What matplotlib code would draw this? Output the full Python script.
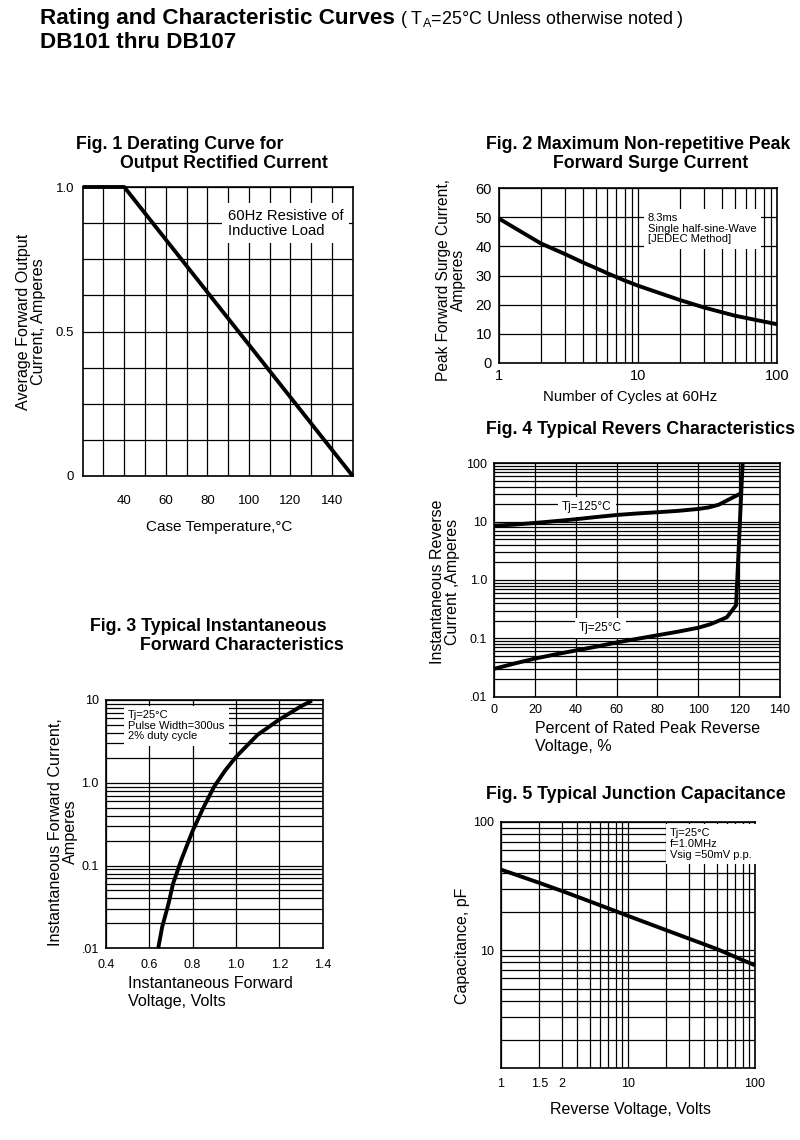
import numpy as np
import matplotlib.pyplot as plt
from matplotlib.ticker import MultipleLocator, FixedLocator, NullFormatter, LogLocator

plt.rcParams['font.family'] = ['Liberation Sans', 'DejaVu Sans']
plt.rcParams['mathtext.fontset'] = 'custom'
plt.rcParams['mathtext.rm'] = 'Liberation Sans'

W, H = 800, 1140

# ---- data ----
# Fig.1 derating curve
f1_temp = [20, 40, 150]
f1_curr = [1.0, 1.0, 0.0]

# Fig.2 surge current
f2_cycles = [1, 2, 3, 4, 5, 6, 8, 10, 20, 30, 50, 100]
f2_amps = [49.5, 41, 37.3, 34.5, 32.5, 30.8, 28.3, 26.5, 21.6, 19, 16.2, 13.3]

# Fig.3 forward characteristics
f3_volt = [0.642, 0.66, 0.69, 0.71, 0.75, 0.80, 0.85, 0.90, 0.95, 1.00, 1.10, 1.20, 1.30, 1.35]
f3_amp = [0.01, 0.018, 0.035, 0.06, 0.12, 0.26, 0.5, 0.9, 1.4, 2.05, 3.8, 5.8, 8.4, 9.8]

# Fig.4 reverse characteristics
f4_pct_125 = [0, 10, 20, 30, 40, 50, 60, 70, 80, 90, 100, 105, 110, 115, 120.4]
f4_ir_125 = [8.5, 8.9, 9.5, 10.2, 11.0, 12.0, 13.0, 13.8, 14.5, 15.3, 16.5, 17.5, 19.5, 24, 30]
f4_pct_25 = [0, 10, 20, 30, 40, 50, 60, 70, 80, 90, 100, 106, 110, 114, 118.5, 121.7]
f4_ir_25 = [0.03, 0.037, 0.045, 0.053, 0.062, 0.072, 0.085, 0.098, 0.113, 0.13, 0.152, 0.175, 0.2, 0.23, 0.37, 100]

# Fig.5 junction capacitance
f5_volt = [1, 2, 3, 5, 10, 20, 50, 100]
f5_cap = [42.5, 33.5, 29, 24, 18.5, 14.3, 10.2, 7.6]

fig = plt.figure(figsize=(W / 100, H / 100), dpi=100)


def add_ax(l, t, r, b):
    return fig.add_axes([l / W, 1 - b / H, (r - l) / W, (b - t) / H])


def ftext(x, y, s, **kw):
    kw.setdefault('va', 'baseline')
    fig.text(x / W, 1 - y / H, s, **kw)


def style(ax, size=9):
    for sp in ax.spines.values():
        sp.set_color('black')
        sp.set_linewidth(1.2)
    ax.tick_params(which='both', length=0, labelsize=size, colors='black', pad=5)
    ax.grid(which='both', color='black', linewidth=0.9)
    ax.set_axisbelow(True)


box = dict(facecolor='white', edgecolor='none', pad=3)
CURVE = dict(color='black', linewidth=2.8, solid_capstyle='butt', clip_on=False, zorder=5)
TITLE = dict(fontsize=12.8, fontweight='bold')

# ---- header ----
ftext(40, 24, 'Rating and Characteristic Curves', fontsize=16.2, fontweight='bold')
ftext(400, 24, r'( T$_\mathregular{A}$=25°C Unless otherwise noted )', fontsize=12.9)
ftext(40, 48, 'DB101 thru DB107', fontsize=16.2, fontweight='bold')

# ---- Fig.1 ----
ax1 = add_ax(82.7, 187, 352.7, 476)
style(ax1, 9.5)
ax1.plot(f1_temp, f1_curr, **CURVE)
ax1.set_xlim(20, 150)
ax1.set_ylim(0, 1.0)
ax1.xaxis.set_major_locator(FixedLocator([40, 60, 80, 100, 120, 140]))
ax1.xaxis.set_minor_locator(FixedLocator(list(range(30, 150, 10))))
ax1.yaxis.set_major_locator(FixedLocator([0, 0.5, 1.0]))
ax1.yaxis.set_minor_locator(MultipleLocator(0.125))
ax1.set_yticklabels(['0', '0.5', '1.0'])
ax1.tick_params(axis='x', pad=14)
ax1.tick_params(axis='y', pad=6)
ax1.text(90, 0.925, '60Hz Resistive of\nInductive Load', fontsize=10.6, va='top', ha='left',
         bbox=dict(facecolor='white', edgecolor='none', pad=4), zorder=4, linespacing=1.1)
ftext(76, 149, 'Fig. 1 Derating Curve for', **TITLE)
ftext(120, 168, 'Output Rectified Current', **TITLE)
ftext(219, 531, 'Case Temperature,°C', fontsize=11, ha='center')
fig.text(31 / W, 1 - 322 / H, 'Average Forward Output\nCurrent, Amperes', fontsize=11.6,
         rotation=90, ha='center', va='center', linespacing=1.0)

# ---- Fig.2 ----
ax2 = add_ax(499, 188, 777, 363)
style(ax2, 10.5)
ax2.plot(f2_cycles, f2_amps, **CURVE)
ax2.set_xscale('log')
ax2.set_xlim(1, 100)
ax2.set_ylim(0, 60)
ax2.xaxis.set_major_locator(FixedLocator([1, 10, 100]))
ax2.xaxis.set_minor_locator(LogLocator(subs=np.arange(2, 10)))
ax2.xaxis.set_minor_formatter(NullFormatter())
ax2.set_xticklabels(['1', '10', '100'])
ax2.yaxis.set_major_locator(MultipleLocator(10))
ax2.tick_params(axis='x', pad=4)
ax2.text(11.8, 51.5, '8.3ms\nSingle half-sine-Wave\n[JEDEC Method]', fontsize=8, va='top',
         ha='left', bbox=box, zorder=4, linespacing=1.1)
ftext(486, 149, 'Fig. 2 Maximum Non-repetitive Peak', **TITLE)
ftext(553, 168, 'Forward Surge Current', **TITLE)
ftext(630, 401, 'Number of Cycles at 60Hz', fontsize=10.7, ha='center')
fig.text(451 / W, 1 - 280 / H, 'Peak Forward Surge Current,\nAmperes', fontsize=11.2,
         rotation=90, ha='center', va='center', linespacing=1.0)

# ---- Fig.4 ----
ax4 = add_ax(494, 463.3, 780, 696.7)
style(ax4)
ax4.plot(f4_pct_125, f4_ir_125, **CURVE)
ax4.plot(f4_pct_25, f4_ir_25, **CURVE)
ax4.set_yscale('log')
ax4.set_xlim(0, 140)
ax4.set_ylim(0.01, 100)
ax4.xaxis.set_major_locator(MultipleLocator(20))
ax4.yaxis.set_major_locator(FixedLocator([0.01, 0.1, 1, 10, 100]))
ax4.yaxis.set_minor_locator(LogLocator(subs=np.arange(2, 10)))
ax4.yaxis.set_minor_formatter(NullFormatter())
ax4.set_yticklabels(['.01', '0.1', '1.0', '10', '100'])
ax4.text(45.4, 17.9, 'Tj=125°C', fontsize=8.5, ha='center', va='center', bbox=box, zorder=4)
ax4.text(52, 0.149, 'Tj=25°C', fontsize=8.5, ha='center', va='center', bbox=box, zorder=4)
ftext(486, 434, 'Fig. 4 Typical Revers Characteristics', **TITLE)
ftext(535, 733, 'Percent of Rated Peak Reverse', fontsize=11.5)
ftext(535, 751, 'Voltage, %', fontsize=11.5)
fig.text(445 / W, 1 - 582 / H, 'Instantaneous Reverse\nCurrent ,Amperes', fontsize=11.5,
         rotation=90, ha='center', va='center', linespacing=1.0)

# ---- Fig.3 ----
ax3 = add_ax(105.7, 700, 322.7, 948.3)
style(ax3)
ax3.plot(f3_volt, f3_amp, **CURVE)
ax3.set_yscale('log')
ax3.set_xlim(0.4, 1.4)
ax3.set_ylim(0.01, 10)
ax3.xaxis.set_major_locator(FixedLocator([0.4, 0.6, 0.8, 1.0, 1.2, 1.4]))
ax3.set_xticklabels(['0.4', '0.6', '0.8', '1.0', '1.2', '1.4'])
ax3.yaxis.set_major_locator(FixedLocator([0.01, 0.1, 1, 10]))
ax3.yaxis.set_minor_locator(LogLocator(subs=np.arange(2, 10)))
ax3.yaxis.set_minor_formatter(NullFormatter())
ax3.set_yticklabels(['.01', '0.1', '1.0', '10'])
ax3.tick_params(axis='x', pad=8)
ax3.text(0.503, 7.6, 'Tj=25°C\nPulse Width=300us\n2% duty cycle', fontsize=8,
         va='top', ha='left', bbox=box, zorder=4, linespacing=1.1)
ftext(90, 631, 'Fig. 3 Typical Instantaneous', **TITLE)
ftext(140, 650, 'Forward Characteristics', **TITLE)
ftext(128, 988, 'Instantaneous Forward', fontsize=11.6)
ftext(128, 1006, 'Voltage, Volts', fontsize=11.6)
fig.text(63 / W, 1 - 832 / H, 'Instantaneous Forward Current,\nAmperes', fontsize=11.6,
         rotation=90, ha='center', va='center', linespacing=1.0)

# ---- Fig.5 ----
ax5 = add_ax(501, 822, 755, 1068)
style(ax5)
ax5.plot(f5_volt, f5_cap, **CURVE)
ax5.set_xscale('log')
ax5.set_yscale('log')
ax5.set_xlim(1, 100)
ax5.set_ylim(1.2, 100)
# the reference prints "1.5" and "2" under the 2 and 3 gridlines
ax5.xaxis.set_major_locator(FixedLocator([1, 2, 3, 10, 100]))
ax5.set_xticklabels(['1', '1.5', '2', '10', '100'])
ax5.xaxis.set_minor_locator(LogLocator(subs=np.arange(2, 10)))
ax5.xaxis.set_minor_formatter(NullFormatter())
ax5.yaxis.set_major_locator(FixedLocator([10, 100]))
ax5.set_yticklabels(['10', '100'])
ax5.yaxis.set_minor_locator(LogLocator(subs=np.arange(2, 10)))
ax5.yaxis.set_minor_formatter(NullFormatter())
ax5.tick_params(axis='x', pad=7)
ax5.text(21.4, 89, 'Tj=25°C\nf=1.0MHz\nVsig =50mV p.p.', fontsize=8,
         va='top', ha='left', bbox=box, zorder=4, linespacing=1.1)
ftext(486, 799, 'Fig. 5 Typical Junction Capacitance', **TITLE)
ftext(630, 1114, 'Reverse Voltage, Volts', fontsize=11.5, ha='center')
fig.text(463 / W, 1 - 946 / H, 'Capacitance, pF', fontsize=11.5,
         rotation=90, ha='center', va='center')

fig.savefig('out.png', dpi=100, facecolor='white')
